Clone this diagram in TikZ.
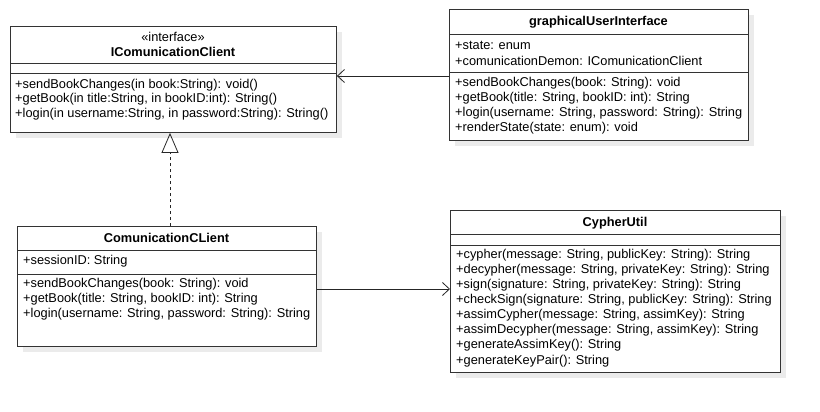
\documentclass[tikz,border=0pt]{standalone}
\usepackage{fontspec}
\setmainfont{Liberation Sans}
\usetikzlibrary{arrows.meta}
\begin{document}
\begin{tikzpicture}[x=1pt,y=-1pt,
  box/.style={draw=black!80, line width=0.9pt, fill=white, rectangle, inner sep=0pt, anchor=north west},
  shade/.style={fill=black!8, draw=none},
  sep/.style={draw=black!80, line width=0.9pt},
  txt/.style={anchor=west, inner sep=0pt, font=\fontsize{12.8}{15}\selectfont},
  ttl/.style={anchor=center, inner sep=0pt, font=\fontsize{12.8}{15}\selectfont\bfseries},
  stereo/.style={anchor=center, inner sep=0pt, font=\fontsize{12.8}{15}\selectfont},
  assoc/.style={draw=black!85, line width=0.8pt, -{Straight Barb[length=7pt, width=13pt, line width=0.8pt]}},
  realize/.style={draw=black!85, line width=0.8pt, dash pattern=on 3pt off 3pt, -{Triangle[open, length=20pt, width=17pt, line width=0.8pt]}}
]
\useasboundingbox (0,0) rectangle (820,412);
\fill[white] (0,0) rectangle (820,412);

% ---------- IComunicationClient ----------
\fill[shade] (16,32) rectangle (342,138);
\node[box, minimum width=326pt, minimum height=106pt] (icc) at (10,26) {};
\draw[sep] (10,63) -- (336,63);
\draw[sep] (10,73) -- (336,73);
\node[stereo] (icc-st) at (173,37) {«interface»};
\node[ttl] (icc-t) at (173,52) {IComunicationClient};
\node[txt] (icc-m1) at (15,85) {+sendBookChanges(in book:String): void()};
\node[txt] (icc-m2) at (15,99.5) {+getBook(in title:String, in bookID:int): String()};
\node[txt] (icc-m3) at (15,114) {+login(in username:String, in password:String): String()};

% ---------- graphicalUserInterface ----------
\fill[shade] (455,15) rectangle (754,146);
\node[box, minimum width=299pt, minimum height=131pt] (gui) at (449,9) {};
\draw[sep] (449,34) -- (748,34);
\draw[sep] (449,72) -- (748,72);
\node[ttl] (gui-t) at (598.5,22.5) {graphicalUserInterface};
\node[txt] (gui-a1) at (455,45.5) {+state: enum};
\node[txt] (gui-a2) at (455,61) {+comunicationDemon: IComunicationClient};
\node[txt] (gui-m1) at (455,83) {+sendBookChanges(book: String): void};
\node[txt] (gui-m2) at (455,98) {+getBook(title: String, bookID: int): String};
\node[txt] (gui-m3) at (455,113) {+login(username: String, password: String): String};
\node[txt] (gui-m4) at (455,128) {+renderState(state: enum): void};

% ---------- ComunicationCLient ----------
\fill[shade] (23,232) rectangle (322,352);
\node[box, minimum width=299pt, minimum height=120pt] (cc) at (17,226) {};
\draw[sep] (17,250.5) -- (316,250.5);
\draw[sep] (17,274) -- (316,274);
\node[ttl] (cc-t) at (166.5,238) {ComunicationCLient};
\node[txt] (cc-a1) at (23,261.5) {+sessionID: String};
\node[txt] (cc-m1) at (23,284.5) {+sendBookChanges(book: String): void};
\node[txt] (cc-m2) at (23,299.5) {+getBook(title: String, bookID: int): String};
\node[txt] (cc-m3) at (23,314.5) {+login(username: String, password: String): String};

% ---------- CypherUtil ----------
\fill[shade] (456,216) rectangle (786,378);
\node[box, minimum width=330pt, minimum height=162pt] (cu) at (450,210) {};
\draw[sep] (450,234) -- (780,234);
\draw[sep] (450,245) -- (780,245);
\node[ttl] (cu-t) at (615,223) {CypherUtil};
\node[txt] (cu-m1) at (456,255) {+cypher(message: String, publicKey: String): String};
\node[txt] (cu-m2) at (456,270.1) {+decypher(message: String, privateKey: String): String};
\node[txt] (cu-m3) at (456,285.2) {+sign(signature: String, privateKey: String): String};
\node[txt] (cu-m4) at (456,300.3) {+checkSign(signature: String, publicKey: String): String};
\node[txt] (cu-m5) at (456,315.4) {+assimCypher(message: String, assimKey): String};
\node[txt] (cu-m6) at (456,330.5) {+assimDecypher(message: String, assimKey): String};
\node[txt] (cu-m7) at (456,345.6) {+generateAssimKey(): String};
\node[txt] (cu-m8) at (456,360.7) {+generateKeyPair(): String};

% ---------- connectors ----------
\draw[assoc] (gui.west |- 0,76) -- (icc.east |- 0,76);
\draw[assoc] (cc.east |- 0,289) -- (cu.west |- 0,289);
\draw[realize] (cc.north -| 170,0) -- (icc.south -| 170,0);
\end{tikzpicture}
\end{document}
